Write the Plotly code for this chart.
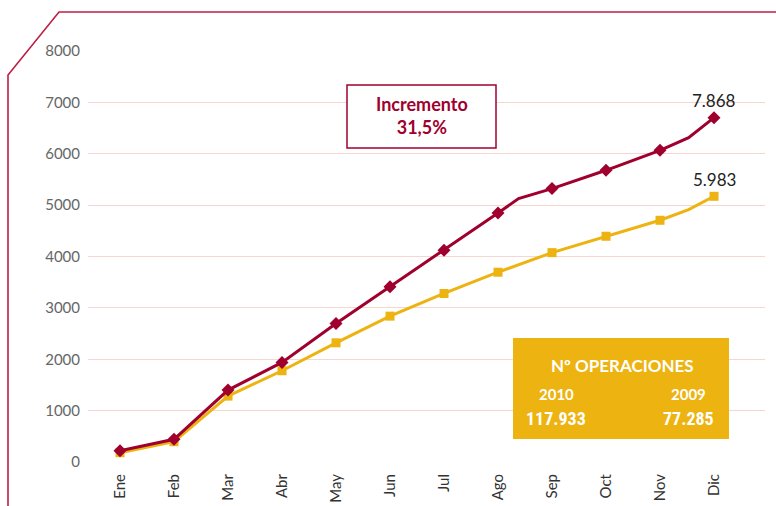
import plotly.graph_objects as go

# ---------------- data ----------------
months = ["Ene", "Feb", "Mar", "Abr", "May", "Jun", "Jul", "Ago", "Sep", "Oct", "Nov", "Dic"]
month_pos = list(range(len(months)))

ops_2010 = [220, 441, 1400, 1939, 2697, 3409, 4122, 4848, 5322, 5678, 6067, 6702]
ops_2009 = [181, 395, 1283, 1776, 2320, 2839, 3280, 3694, 4075, 4394, 4705, 5172]

# line paths include the small bends visible between monthly markers
line_2010_x = [0, 1, 2, 3, 4, 5, 6, 7, 7.38, 8, 9, 10, 10.53, 11]
line_2010_y = [220, 441, 1400, 1939, 2697, 3409, 4122, 4848, 5127, 5322, 5678, 6067, 6313, 6702]
line_2009_x = [0, 1, 2, 3, 4, 5, 6, 7, 8, 9, 10, 10.53, 11]
line_2009_y = [181, 395, 1283, 1776, 2320, 2839, 3280, 3694, 4075, 4394, 4705, 4913, 5172]

end_labels = ["7.868", "5.983"]
y_ticks = [0, 1000, 2000, 3000, 4000, 5000, 6000, 7000, 8000]
grid_ticks = [0, 1000, 2000, 3000, 4000, 5000, 6000, 7000]

box_title = "Nº OPERACIONES"
box_years = ["2010", "2009"]
box_totals = ["117.933", "77.285"]
increment_text = ["Incremento", "31,5%"]

RED = "#A0002E"
YEL = "#EDB311"
FRAME = "#BE1E45"
GRID = "#F6D6D1"
FONT = "Lato, 'Open Sans', sans-serif"
NARROW = "'Liberation Sans Narrow', 'Arial Narrow', 'Roboto Condensed', 'Liberation Sans', sans-serif"

W, H = 776, 506
ML, MR, MT, MB = 88, 11, 51, 44
PW, PH = W - ML - MR, H - MT - MB


def px(x):
    return (x - ML) / PW


def py(y):
    return (H - MB - y) / PH


fig = go.Figure()

fig.add_trace(go.Scatter(x=line_2009_x, y=line_2009_y, mode="lines",
                         line=dict(color=YEL, width=3), hoverinfo="skip", showlegend=False))
fig.add_trace(go.Scatter(x=month_pos, y=ops_2009, mode="markers",
                         marker=dict(symbol="square", size=9, color=YEL),
                         name="2009", showlegend=False))
fig.add_trace(go.Scatter(x=line_2010_x, y=line_2010_y, mode="lines",
                         line=dict(color=RED, width=3), hoverinfo="skip", showlegend=False))
fig.add_trace(go.Scatter(x=month_pos, y=ops_2010, mode="markers",
                         marker=dict(symbol="diamond", size=10, color=RED),
                         name="2010", showlegend=False))
# dummy trace to carry the label axis
fig.add_trace(go.Scatter(x=[None], y=[None], yaxis="y2", showlegend=False, hoverinfo="skip"))

# end value labels
for yv, txt in zip([ops_2010[-1], ops_2009[-1]], end_labels):
    fig.add_annotation(x=month_pos[-1], y=yv, text=txt, showarrow=False,
                       xanchor="center", yanchor="middle",
                       yshift=17, font=dict(family=FONT, size=17, color="#222"))

shapes = []
# decorative frame
shapes.append(dict(type="path", xref="paper", yref="paper",
                   path=f"M {px(8)},{py(506)} L {px(8)},{py(75)} L {px(59)},{py(12)} L {px(776)},{py(12)}",
                   line=dict(color=FRAME, width=1.6)))
# increment box
shapes.append(dict(type="rect", xref="paper", yref="paper",
                   x0=px(347), x1=px(496), y0=py(148), y1=py(85),
                   line=dict(color=RED, width=1.5), fillcolor="white"))
# operations box
shapes.append(dict(type="rect", xref="paper", yref="paper",
                   x0=px(513), x1=px(729), y0=py(439), y1=py(338),
                   line=dict(width=0), fillcolor=YEL))
fig.update_layout(shapes=shapes)


def note(x, y, text, size, color, family=FONT):
    fig.add_annotation(xref="paper", yref="paper", x=px(x), y=py(y), text=text,
                       xanchor="center", yanchor="middle", showarrow=False,
                       font=dict(family=family, size=size, color=color))


note(421.5, 115, f"<b>{increment_text[0]}<br>{increment_text[1]}</b>", 18, RED)

note(622, 365, f"<b>{box_title}</b>", 17, "white")
for cx, yr, tot in zip([556, 688], box_years, box_totals):
    note(cx, 394, f"<b>{yr}</b>", 15, "white")
    note(cx, 418, f"<b>{tot}</b>", 18, "white", NARROW)

fig.update_layout(
    width=W, height=H,
    margin=dict(l=ML, r=MR, t=MT, b=MB),
    paper_bgcolor="white", plot_bgcolor="white",
    showlegend=False,
    xaxis=dict(range=[-0.593, 11.944], tickmode="array", tickvals=month_pos, ticktext=months,
               tickangle=-90, showgrid=False, zeroline=False, showline=False, automargin=False,
               ticks="outside", ticklen=5, tickcolor="rgba(0,0,0,0)",
               tickfont=dict(family=FONT, size=15, color="#333")),
    yaxis=dict(range=[0, 8000], tickmode="array", tickvals=grid_ticks, showticklabels=False,
               showgrid=True, gridcolor=GRID, gridwidth=1, zeroline=False, showline=False,
               automargin=False),
    yaxis2=dict(range=[0, 8000], overlaying="y", side="left", tickmode="array", tickvals=y_ticks,
                showgrid=False, zeroline=False, showline=False, automargin=False,
                ticks="outside", ticklen=4, tickcolor="rgba(0,0,0,0)",
                tickfont=dict(family=FONT, size=15, color="#666")),
)

fig.write_html("out.html", config={"displayModeBar": False},
               post_script="document.body.style.margin='0px';")
